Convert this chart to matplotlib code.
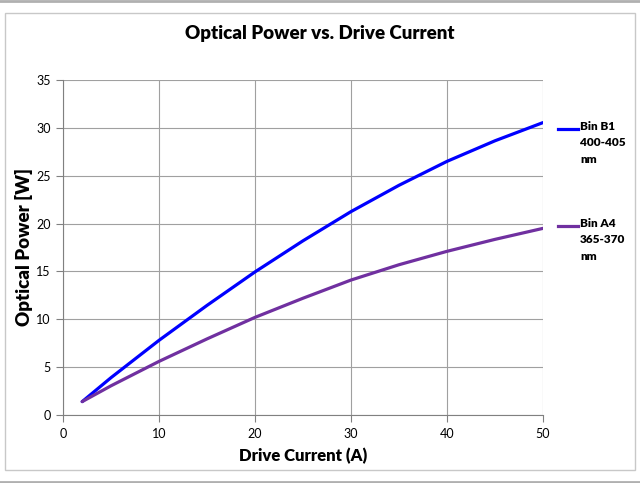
import numpy as np
import matplotlib.pyplot as plt
from matplotlib.lines import Line2D
from matplotlib.patches import Rectangle

plt.rcParams['font.family'] = ['Lato', 'DejaVu Sans']

# drive current (A)
current = [2, 5, 10, 15, 20, 25, 30, 35, 40, 45, 50]
# optical power (W)
bin_b1 = [1.4, 3.9, 7.8, 11.45, 14.95, 18.2, 21.25, 24.0, 26.5, 28.65, 30.55]
bin_a4 = [1.4, 3.05, 5.6, 7.95, 10.2, 12.2, 14.1, 15.7, 17.1, 18.35, 19.5]
labels = ['Bin B1\n400-405\nnm', 'Bin A4\n365-370\nnm']
colors = ['#0000ff', '#7030a0']

fig = plt.figure(figsize=(6.4, 4.83), dpi=100)
fig.patch.set_facecolor('white')

# page lines and chart frame
fig.add_artist(Line2D([0, 1], [0.998, 0.998], color='#b0b0b0', lw=2))
fig.add_artist(Line2D([0, 1], [0.002, 0.002], color='#b0b0b0', lw=2))
fig.add_artist(Rectangle((5/640, 13/483), 630/640, 457/483, transform=fig.transFigure,
                         fill=False, edgecolor='#c8c8c8', lw=1))

ax = fig.add_axes([63/640, 68/483, 480/640, 335/483])
for vals, c in zip([bin_b1, bin_a4], colors):
    ax.plot(current, vals, color=c, lw=2.3, solid_capstyle='round')

ax.set_xlim(0, 50)
ax.set_ylim(0, 35)
ax.set_xticks(range(0, 51, 10))
ax.set_yticks(range(0, 36, 5))
ax.grid(True, color='#a0a0a0', lw=0.8)
ax.set_axisbelow(True)
for s in ['top', 'right']:
    ax.spines[s].set_visible(False)
for s in ['left', 'bottom']:
    ax.spines[s].set_color('#808080')
ax.tick_params(direction='out', length=5, color='#808080', labelsize=9, pad=4)

ax.set_xlabel('Drive Current (A)', fontsize=12, fontweight='heavy', labelpad=6)
ax.set_ylabel('Optical Power [W]', fontsize=13.5, fontweight='heavy', labelpad=2)
fig.text(0.5, 1 - 33/483, 'Optical Power vs. Drive Current', ha='center', va='center',
         fontsize=13.5, fontweight='heavy')

# legend on the right
for lab, c, y in zip(labels, colors, [129, 226]):
    fy = 1 - y/483
    fig.add_artist(Line2D([558/640, 578/640], [fy, fy], color=c, lw=2.3))
    fig.text(580/640, fy + 8/483, lab, ha='left', va='top', fontsize=8.5,
             fontweight='heavy', linespacing=1.6)

fig.savefig('out.png', dpi=100)
